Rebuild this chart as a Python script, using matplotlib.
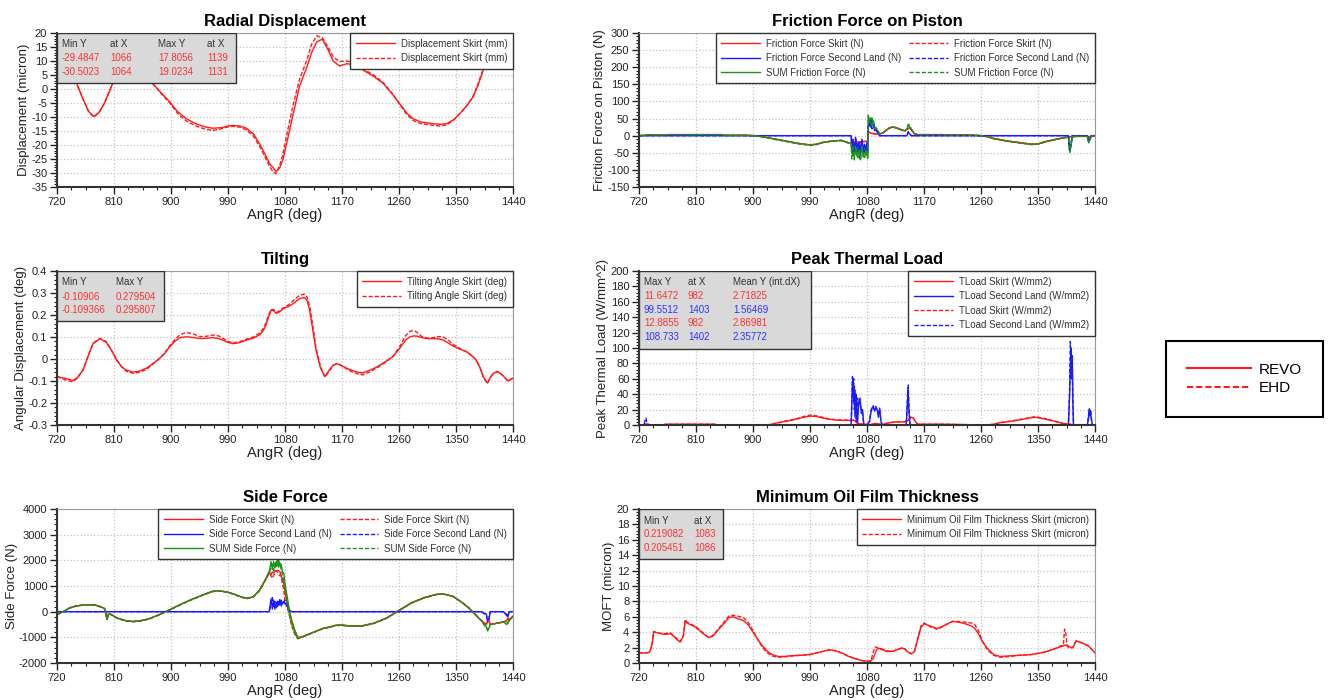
import matplotlib
matplotlib.use('Agg')
import matplotlib.pyplot as plt
from matplotlib.ticker import MultipleLocator, AutoMinorLocator, FormatStrFormatter
from matplotlib.lines import Line2D
import matplotlib.patches as mpatches

plt.rcParams['font.family'] = ['Liberation Sans', 'DejaVu Sans']
plt.rcParams['axes.unicode_minus'] = False

# ---------------- DATA ----------------
# Radial displacement (micron)
rd_x = [720, 730, 740, 751, 760, 770, 778, 786, 795, 808, 820, 835, 850, 862, 871,
        885, 898, 910, 924, 940, 955, 966, 980, 990, 998, 1008, 1019, 1030, 1040, 1050,
        1056, 1061, 1066, 1072, 1077, 1085, 1093, 1103, 1114, 1122, 1130, 1139, 1148, 1156, 1166,
        1177, 1190, 1203, 1220, 1235, 1250, 1261, 1272, 1282, 1295, 1314, 1325, 1335, 1346, 1356,
        1367, 1377, 1385, 1393, 1405, 1420, 1440]
rd_revo = [16, 12, 7, 2, -3, -8, -9.8, -8.5, -5, 2, 6, 8, 7, 4.5, 2,
           -1.5, -4.6, -8, -10.6, -12.5, -13.6, -14.0, -13.8, -13.2, -13.0, -13.2, -14.0, -16, -19.6, -24,
           -26.8, -28, -29.5, -28, -25, -17, -8.8, 1, 7.5, 13, 16.8, 17.8, 14, 10, 8.2,
           9.0, 8.8, 6.8, 4.5, 2, -2, -5.2, -8.5, -10.6, -11.8, -12.4, -12.6, -12.4, -11, -8.8,
           -6, -2.8, 1.5, 6.8, 12, 15, 16]
rd_ehd = [17, 12.5, 7, 2, -3, -8.2, -10, -8.5, -5, 2, 6, 8, 7, 4.5, 2,
          -1.8, -5, -8.6, -11.4, -13.3, -14.4, -14.8, -14.2, -13.5, -13.3, -13.6, -14.6, -16.8, -20.5, -25,
          -27.8, -29.5, -30.3, -27, -23, -14, -5.5, 3.5, 10, 16, 19.0, 18.3, 15, 11.5, 9.8,
          10, 9.5, 7.2, 5, 2.3, -1.8, -5.5, -9, -11.2, -12.4, -13, -13.2, -12.8, -11.2, -8.8,
          -6, -2.6, 2, 7.2, 12.5, 15.5, 17]

# Tilting (deg)
tl_x = [720, 733, 745, 752, 761, 770, 777, 788, 798, 806, 814, 822, 829, 840, 850,
        861, 872, 882, 890, 898, 906, 914, 924, 935, 945, 955, 966, 975, 982, 990,
        998, 1008, 1019, 1030, 1040, 1046, 1050, 1054, 1058, 1062, 1066, 1072, 1077, 1085, 1093,
        1103, 1111, 1115, 1119, 1124, 1129, 1136, 1143, 1150, 1156, 1161, 1166, 1172, 1180, 1187,
        1195, 1203, 1213, 1224, 1237, 1250, 1261, 1270, 1277, 1283, 1288, 1296, 1304, 1314, 1322,
        1330, 1338, 1346, 1356, 1367, 1375, 1382, 1388, 1393, 1397, 1400, 1404, 1409, 1416, 1424,
        1432, 1440]
tl_revo = [-0.08, -0.088, -0.098, -0.085, -0.05, 0.02, 0.07, 0.092, 0.075, 0.04,
           -0.005, -0.035, -0.05, -0.06, -0.055, -0.042, -0.02, 0.003, 0.025, 0.056,
           0.08, 0.097, 0.101, 0.098, 0.093, 0.094, 0.097, 0.093, 0.086, 0.075,
           0.07, 0.074, 0.086, 0.095, 0.11, 0.13, 0.155, 0.19, 0.222, 0.22,
           0.207, 0.215, 0.229, 0.238, 0.252, 0.275, 0.279, 0.265, 0.22, 0.13,
           0.04, -0.04, -0.08, -0.05, -0.028, -0.022, -0.025, -0.035, -0.045, -0.053,
           -0.06, -0.063, -0.052, -0.038, -0.015, 0.01, 0.048, 0.085, 0.1, 0.105,
           0.104, 0.097, 0.093, 0.092, 0.092, 0.086, 0.072, 0.058, 0.045, 0.032,
           0.015, -0.005, -0.04, -0.08, -0.1, -0.109, -0.085, -0.065, -0.057, -0.075,
           -0.1, -0.087]
tl_ehd = [-0.08, -0.095, -0.103, -0.088, -0.05, 0.02, 0.072, 0.094, 0.078, 0.04,
          -0.002, -0.035, -0.055, -0.065, -0.06, -0.048, -0.022, 0.003, 0.027, 0.06,
          0.088, 0.11, 0.121, 0.114, 0.102, 0.103, 0.109, 0.105, 0.094, 0.08,
          0.073, 0.078, 0.09, 0.1, 0.118, 0.14, 0.165, 0.2, 0.225, 0.225,
          0.212, 0.22, 0.232, 0.245, 0.265, 0.29, 0.295, 0.28, 0.24, 0.15,
          0.05, -0.035, -0.082, -0.055, -0.03, -0.022, -0.025, -0.035, -0.05, -0.06,
          -0.068, -0.072, -0.06, -0.042, -0.018, 0.01, 0.055, 0.105, 0.125, 0.13,
          0.122, 0.102, 0.095, 0.097, 0.102, 0.1, 0.085, 0.065, 0.048, 0.033,
          0.015, -0.005, -0.04, -0.08, -0.1, -0.109, -0.085, -0.065, -0.057, -0.075,
          -0.1, -0.087]

# Friction force (N)
fr_x = [720, 730, 733, 737, 740, 760, 765, 800, 850, 855, 890, 900, 910, 920, 935,
        950, 970, 990, 1000, 1010, 1020, 1030, 1040, 1050, 1055, 1056, 1058, 1060, 1062, 1064,
        1066, 1068, 1070, 1072, 1074, 1076, 1078, 1080, 1081, 1082, 1084, 1086, 1088, 1090, 1092,
        1094, 1096, 1098, 1100, 1105, 1110, 1115, 1120, 1125, 1130, 1135, 1140, 1143, 1145, 1147,
        1150, 1155, 1160, 1200, 1230, 1250, 1260, 1270, 1280, 1300, 1320, 1340, 1350, 1360, 1380,
        1395, 1398, 1400, 1402, 1404, 1410, 1420, 1428, 1430, 1432, 1434, 1440]
fr_skirt_revo = [0, 1, 2, 3, 2, 2, 3, 3, 3, 1, 1, 0, -2, -5, -10,
                 -15, -22, -27, -25, -20, -17, -15, -14, -20, -22, -22, -22, -21, -20, -20,
                 -19, -18, -18, -18, -17, -17, -17, -17, -17, 12, 10, 8, 7, 6, 5,
                 5, 5, 5, 5, 8, 15, 22, 25, 23, 20, 16, 14, 18, 20, 22,
                 18, 5, 3, 3, 2, 1, 0, -3, -8, -15, -20, -25, -24, -18, -10,
                 -5, -4, -4, -3, -3, -2, -2, -2, -3, -3, -2, 0]
fr_land_revo = [0, 0, 0, 0, 0, 0, 0, 0, 0, 0, 0, 0, 0, 0, 0,
                0, 0, 0, 0, 0, 0, 0, 0, 0, 0, -30, -10, -45, -5, -40,
                -20, -50, -30, -10, -45, -25, -40, -20, -45, 20, 40, 25, 45, 35, 15,
                20, 10, 5, 0, 0, 0, 0, 0, 0, 0, 0, 0, 0, 10, 5,
                0, 0, 0, 0, 0, 0, 0, 0, 0, 0, 0, 0, 0, 0, 0,
                0, 0, -40, -30, 0, 0, 0, 0, -15, -10, 0, 0]
fr_sum_revo = [0, 1, 2, 3, 2, 2, 3, 3, 3, 1, 1, 0, -2, -5, -10,
               -15, -22, -27, -25, -20, -17, -15, -14, -20, -22, -52, -32, -66, -25, -60,
               -39, -68, -48, -28, -62, -42, -57, -37, -62, 55, 50, 33, 52, 41, 20,
               25, 15, 10, 5, 8, 15, 22, 25, 23, 20, 16, 14, 18, 30, 27,
               18, 5, 3, 3, 2, 1, 0, -3, -8, -15, -20, -25, -24, -18, -10,
               -5, -4, -44, -33, -3, -2, -2, -2, -18, -13, -2, 0]
fr_skirt_ehd = [0, 1, 2, 3, 2, 2, 3, 3, 3, 1, 1, 0, -2, -5, -11,
                -16, -23, -28, -26, -20, -17, -15, -14, -21, -23, -23, -22, -21, -21, -20,
                -19, -19, -18, -18, -18, -17, -17, -17, -17, 10, 9, 7, 6, 6, 5,
                5, 5, 5, 5, 8, 15, 22, 26, 24, 21, 17, 15, 19, 21, 23,
                19, 5, 3, 3, 2, 1, 0, -3, -9, -16, -21, -26, -25, -19, -10,
                -5, -4, -4, -3, -3, -2, -2, -2, -3, -3, -2, 0]
fr_land_ehd = [0, 0, 0, 0, 0, 0, 0, 0, 0, 0, 0, 0, 0, 0, 0,
               0, 0, 0, 0, 0, 0, 0, 0, 0, 0, -45, -15, -50, -10, -35,
               -45, -20, -55, -15, -40, -50, -30, -45, -50, 35, 30, 45, 20, 40, 20,
               15, 15, 8, 0, 0, 0, 0, 0, 0, 0, 0, 0, 0, 12, 8,
               0, 0, 0, 0, 0, 0, 0, 0, 0, 0, 0, 0, 0, 0, 0,
               0, 0, -45, -25, 0, 0, 0, 0, -18, -8, 0, 0]
fr_sum_ehd = [0, 1, 2, 3, 2, 2, 3, 3, 3, 1, 1, 0, -2, -5, -11,
              -16, -23, -28, -26, -20, -17, -15, -14, -21, -23, -68, -37, -71, -31, -55,
              -64, -39, -73, -33, -58, -67, -47, -62, -67, 60, 39, 52, 26, 46, 25,
              20, 20, 13, 5, 8, 15, 22, 26, 24, 21, 17, 15, 19, 33, 31,
              19, 5, 3, 3, 2, 1, 0, -3, -9, -16, -21, -26, -25, -19, -10,
              -5, -4, -49, -28, -3, -2, -2, -2, -21, -11, -2, 0]

# Peak thermal load (W/mm2)
th_x = [720, 727, 728, 735, 736, 760, 761, 840, 841, 920,
        930, 940, 950, 960, 970, 980, 990, 1000, 1010, 1020,
        1030, 1040, 1050, 1060, 1064, 1068, 1075, 1080, 1085, 1090,
        1095, 1100, 1105, 1110, 1120, 1130, 1140, 1145, 1150, 1153,
        1156, 1160, 1165, 1200, 1270, 1280, 1290, 1300, 1310, 1320,
        1330, 1340, 1345, 1350, 1360, 1370, 1380, 1390, 1400, 1405,
        1410, 1440]
th_skirt_revo = [0, 0, 1, 1, 0, 0, 1, 1, 0, 0,
                 1, 3, 4.5, 6, 8, 10, 11.6, 11, 9, 7.5,
                 6.5, 6, 6, 6, 3, 1.5, 1, 1, 0.5, 1.5,
                 2, 1, 0.5, 2, 3.5, 4, 4, 6, 10, 9,
                 5, 1, 1, 1, 0, 1, 3, 4, 5, 6.5,
                 8, 9.5, 10, 9.5, 8, 6, 4, 2, 1, 0.5,
                 0, 0]
th_skirt_ehd = [0, 0, 1, 1, 0, 0, 1, 1, 0, 0,
                1, 3, 5, 6.5, 8.5, 11, 12.9, 12, 10, 8,
                7, 6.5, 6.5, 6.5, 3, 1.5, 1, 1, 0.5, 1.5,
                2, 1, 0.5, 2, 3.5, 4, 4.5, 6.5, 11, 9.5,
                5, 1, 1, 1, 0, 1, 3, 4.5, 5.5, 7,
                8.5, 10, 11, 10, 8.5, 6.5, 4, 2, 1, 0.5,
                0, 0]
th_land_x_revo = [720, 1055, 1057, 1058, 1059, 1060, 1061, 1063, 1065, 1067,
                  1069, 1071, 1073, 1075, 1080, 1084, 1086, 1088, 1090, 1092,
                  1094, 1096, 1098, 1100, 1102, 1104, 1142, 1144, 1145, 1146,
                  1148, 1398, 1400, 1401, 1402, 1403, 1404, 1405, 1406, 1408,
                  1428, 1430, 1431, 1432, 1433, 1434, 1436, 1440]
th_land_revo = [0, 0, 55, 60, 30, 50, 10, 40, 0, 30,
                35, 15, 20, 0, 0, 5, 15, 22, 25, 18,
                22, 20, 10, 22, 5, 0, 0, 30, 45, 20,
                0, 0, 40, 75, 99.5, 60, 90, 30, 0, 0,
                0, 10, 20, 12, 18, 8, 0, 0]
th_land_x_ehd = [720, 728, 730, 731, 733, 1055, 1057, 1058, 1059, 1060, 1061, 1063, 1065, 1067,
                 1069, 1071, 1073, 1075, 1080, 1084, 1086, 1088, 1090, 1092,
                 1094, 1096, 1098, 1100, 1102, 1104, 1142, 1144, 1145, 1146,
                 1148, 1398, 1400, 1401, 1402, 1403, 1404, 1405, 1406, 1408,
                 1428, 1430, 1431, 1432, 1433, 1434, 1436, 1440]
th_land_ehd = [0, 0, 8, 9, 0, 0, 63, 50, 60, 20, 45, 5, 35, 25,
               30, 20, 15, 0, 0, 5, 18, 24, 22, 20,
               24, 20, 15, 20, 5, 0, 0, 40, 52, 30,
               0, 0, 50, 108.7, 95, 85, 90, 40, 0, 0,
               0, 15, 21, 18, 20, 10, 0, 0]

# Side force (N)
sf_x = [720, 730, 740, 750, 765, 780, 790, 795, 797, 799, 801, 805, 815, 830, 840,
        850, 865, 880, 900, 915, 930, 950, 965, 975, 990, 1000, 1010, 1020, 1030, 1040,
        1048, 1055, 1058, 1060, 1062, 1064, 1066, 1068, 1070, 1072, 1074, 1076, 1078, 1080, 1083,
        1086, 1090, 1095, 1100, 1105, 1110, 1120, 1130, 1140, 1150, 1160, 1170, 1180, 1200, 1220,
        1240, 1260, 1280, 1300, 1320, 1330, 1345, 1360, 1370, 1380, 1390, 1398, 1400, 1402, 1404,
        1408, 1415, 1425, 1430, 1432, 1434, 1440]
sf_skirt_revo = [-100, 0, 150, 220, 270, 260, 180, 120, -50, -300, -100, -100, -250, -360, -380,
                 -360, -280, -130, 100, 280, 450, 650, 790, 820, 760, 680, 580, 520, 580, 850,
                 1200, 1550, 1450, 1550, 1500, 1600, 1600, 1600, 1600, 1550, 1400, 1250, 1100, 800, 400,
                 100, -300, -700, -1000, -1000, -950, -850, -750, -650, -600, -530, -520, -550, -560, -450,
                 -250, 50, 350, 550, 680, 690, 600, 350, 150, -100, -350, -500, -350, -350, -500,
                 -480, -450, -400, -350, -250, -350, -180]
sf_land_revo = [0, 0, 0, 0, 0, 0, 0, 0, 0, 0, 0, 0, 0, 0, 0,
                0, 0, 0, 0, 0, 0, 0, 0, 0, 0, 0, 0, 0, 0, 0,
                0, 0, 500, 100, 450, 100, 350, 200, 400, 250, 450, 300, 400, 300, 250,
                100, 0, 0, 0, 0, 0, 0, 0, 0, 0, 0, 0, 0, 0, 0,
                0, 0, 0, 0, 0, 0, 0, 0, 0, 0, 0, -100, -400, -300, 0,
                0, 0, 0, -150, -200, 0, 0]
sf_sum_revo = [-100, 0, 150, 220, 270, 260, 180, 120, -50, -300, -100, -100, -250, -360, -380,
               -360, -280, -130, 100, 280, 450, 650, 790, 820, 760, 680, 580, 520, 580, 850,
               1200, 1550, 1950, 1650, 1950, 1700, 1950, 1800, 2000, 1800, 1850, 1550, 1500, 1100, 650,
               200, -300, -700, -1000, -1000, -950, -850, -750, -650, -600, -530, -520, -550, -560, -450,
               -250, 50, 350, 550, 680, 690, 600, 350, 150, -100, -350, -600, -750, -650, -500,
               -480, -450, -400, -500, -450, -350, -180]
sf_skirt_ehd = [-120, 0, 140, 220, 270, 260, 180, 120, -50, -300, -100, -110, -260, -370, -390,
                -370, -290, -140, 90, 270, 440, 640, 780, 810, 750, 670, 570, 510, 570, 830,
                1180, 1500, 1400, 1300, 1400, 1500, 1600, 1550, 1450, 1400, 1400, 1050, 850, 450, 200,
                -50, -500, -850, -1050, -1020, -960, -860, -760, -660, -610, -540, -530, -560, -570, -460,
                -260, 40, 340, 540, 670, 690, 600, 350, 150, -100, -350, -500, -350, -350, -500,
                -480, -450, -400, -350, -250, -300, -180]
sf_land_ehd = [0, 0, 0, 0, 0, 0, 0, 0, 0, 0, 0, 0, 0, 0, 0,
               0, 0, 0, 0, 0, 0, 0, 0, 0, 0, 0, 0, 0, 0, 0,
               0, 0, 300, 550, 200, 400, 150, 450, 250, 500, 200, 400, 350, 450, 200,
               50, 0, 0, 0, 0, 0, 0, 0, 0, 0, 0, 0, 0, 0, 0,
               0, 0, 0, 0, 0, 0, 0, 0, 0, 0, 0, -150, -350, -250, 0,
               0, 0, 0, -100, -150, 0, 0]
sf_sum_ehd = [-120, 0, 140, 220, 270, 260, 180, 120, -50, -300, -100, -110, -260, -370, -390,
              -370, -290, -140, 90, 270, 440, 640, 780, 810, 750, 670, 570, 510, 570, 830,
              1180, 1500, 1700, 1850, 1600, 1900, 1750, 2000, 1700, 1900, 1600, 1450, 1200, 900, 400,
              0, -500, -850, -1050, -1020, -960, -860, -760, -660, -610, -540, -530, -560, -570, -460,
              -260, 40, 340, 540, 670, 690, 600, 350, 150, -100, -350, -650, -700, -600, -500,
              -480, -450, -400, -450, -400, -300, -180]

# Minimum oil film thickness (micron)
mo_x = [720, 730, 737, 741, 743, 750, 760, 770, 778, 785, 790, 793, 796, 810, 820,
        830, 837, 845, 855, 862, 868, 875, 885, 893, 900, 908, 915, 923, 930, 940,
        950, 960, 975, 990, 1005, 1020, 1030, 1040, 1050, 1060, 1070, 1078, 1083, 1086, 1090,
        1093, 1096, 1100, 1105, 1110, 1120, 1130, 1135, 1140, 1145, 1150, 1155, 1160, 1165, 1170,
        1180, 1190, 1195, 1205, 1215, 1225, 1235, 1245, 1250, 1256, 1262, 1270, 1280, 1290, 1300,
        1320, 1340, 1360, 1375, 1385, 1390, 1392, 1394, 1396, 1398, 1402, 1405, 1410, 1420, 1430,
        1440]
mo_revo = [1.3, 1.3, 1.4, 2.5, 4.0, 3.9, 3.7, 3.8, 3.2, 2.7, 3.5, 5.5, 5.2, 4.6, 3.9,
           3.3, 3.5, 4.3, 5.2, 5.9, 6.0, 5.8, 5.5, 4.9, 4.0, 3.0, 2.2, 1.5, 1.1, 0.85,
           0.85, 0.95, 1.0, 1.1, 1.4, 1.7, 1.6, 1.3, 0.9, 0.6, 0.35, 0.25, 0.22, 0.3, 0.6,
           1.3, 1.8, 1.9, 1.8, 1.5, 1.5, 1.8, 1.95, 1.8, 1.4, 1.2, 1.5, 3.0, 4.6, 5.1,
           4.8, 4.5, 4.6, 5.0, 5.4, 5.3, 5.1, 4.8, 4.5, 3.8, 2.8, 1.9, 1.1, 0.85, 0.9,
           1.0, 1.1, 1.4, 1.8, 2.1, 2.2, 2.3, 2.3, 2.3, 2.2, 2.0, 2.0, 2.9, 2.6, 2.2,
           1.3]
mo_ehd = [1.3, 1.3, 1.4, 2.7, 4.1, 3.9, 3.8, 3.9, 3.3, 2.8, 3.5, 5.6, 5.3, 4.7, 4.0,
          3.3, 3.6, 4.4, 5.4, 6.1, 6.2, 6.1, 5.9, 5.2, 4.2, 3.0, 2.0, 1.3, 0.9, 0.75,
          0.8, 0.9, 1.0, 1.1, 1.4, 1.7, 1.6, 1.3, 0.9, 0.6, 0.35, 0.25, 0.22, 0.21, 1.5,
          2.1, 2.0, 1.8, 1.7, 1.6, 1.5, 1.8, 1.95, 1.8, 1.4, 1.2, 1.5, 3.2, 4.8, 5.2,
          4.7, 4.4, 4.5, 5.0, 5.4, 5.4, 5.3, 5.2, 5.0, 4.2, 2.9, 1.7, 1.0, 0.75, 0.8,
          1.0, 1.1, 1.4, 1.8, 2.2, 2.3, 4.4, 3.8, 2.2, 2.0, 2.0, 2.0, 2.8, 2.6, 2.2,
          1.3]

# Statistics boxes text
rd_stats_head = ['Min Y', 'at X', 'Max Y', 'at X']
rd_stats_revo = ['-29.4847', '1066', '17.8056', '1139']
rd_stats_ehd = ['-30.5023', '1064', '19.0234', '1131']
tl_stats_head = ['Min Y', 'Max Y']
tl_stats_revo = ['-0.10906', '0.279504']
tl_stats_ehd = ['-0.109366', '0.295807']
th_stats_head = ['Max Y', 'at X', 'Mean Y (int.dX)']
th_stats_rows = [['11.6472', '982', '2.71825'],
                 ['99.5512', '1403', '1.56469'],
                 ['12.8855', '982', '2.86981'],
                 ['108.733', '1402', '2.35772']]
mo_stats_head = ['Min Y', 'at X']
mo_stats_revo = ['0.219082', '1083']
mo_stats_ehd = ['0.205451', '1086']

# ---------------- STYLE ----------------
W, H = 1332, 700
RED = '#ff1a1a'
BLUE = '#1a1aff'
GREEN = '#1a941a'
TXT_RED = '#ff3333'
TXT_BLUE = '#3333ff'
DASH = (0, (3, 1.4))
AW, AH = 456, 154

fig = plt.figure(figsize=(W / 100, H / 100), dpi=100)


def px_axes(left, top, right, bottom):
    return fig.add_axes([left / W, 1 - bottom / H, (right - left) / W, (bottom - top) / H])


def style(ax, ylim, ystep, ylabel, title, fmt='%g'):
    ax.set_xlim(720, 1440)
    ax.set_ylim(*ylim)
    ax.xaxis.set_major_locator(MultipleLocator(90))
    ax.xaxis.set_minor_locator(MultipleLocator(22.5))
    ax.yaxis.set_major_locator(MultipleLocator(ystep))
    ax.yaxis.set_minor_locator(AutoMinorLocator(5))
    ax.yaxis.set_major_formatter(FormatStrFormatter(fmt))
    ax.grid(True, which='major', color='#c4c4c4', linestyle=':', linewidth=0.9)
    ax.set_axisbelow(True)
    ax.tick_params(which='major', direction='out', length=5, width=1, labelsize=8,
                   colors='#222222', pad=2)
    ax.tick_params(which='minor', direction='out', length=2.5, width=0.8, colors='#222222')
    for s in ['left', 'bottom']:
        ax.spines[s].set_linewidth(1.5)
        ax.spines[s].set_color('#333333')
    for s in ['top', 'right']:
        ax.spines[s].set_linewidth(0.8)
        ax.spines[s].set_color('#999999')
    ax.set_xlabel('AngR (deg)', fontsize=10.5, labelpad=1, color='#222222')
    ax.set_ylabel(ylabel, fontsize=9.5, labelpad=1, color='#222222')
    ax.set_title(title, fontsize=12, fontweight='bold', pad=5)


def stats_box(ax, w, h, cols, rows):
    rect = mpatches.Rectangle((0, 1 - h / AH), w / AW, h / AH, transform=ax.transAxes,
                              facecolor='#d9d9d9', edgecolor='#333333', lw=1.0, zorder=5)
    ax.add_patch(rect)
    for yoff, texts, color in rows:
        for c, t in zip(cols, texts):
            ax.text(c / AW, 1 - yoff / AH, t, transform=ax.transAxes, fontsize=7,
                    color=color, va='center', ha='left', zorder=6)


def legend(ax, ncol=1, **kw):
    lg = ax.legend(loc='upper right', borderaxespad=0, fontsize=7, handlelength=4.0,
                   handletextpad=0.6, labelspacing=0.45, borderpad=0.6, ncol=ncol,
                   frameon=True, fancybox=False, edgecolor='#333333', framealpha=1,
                   columnspacing=0.8, **kw)
    lg.get_frame().set_linewidth(1.0)
    for t in lg.get_texts():
        t.set_color('#333333')
    lg.set_zorder(7)
    return lg


# ---- Radial displacement
ax1 = px_axes(57, 33, 513, 187)
ax1.plot(rd_x, rd_revo, color=RED, lw=1.0, label='Displacement Skirt (mm)')
ax1.plot(rd_x, rd_ehd, color=RED, lw=1.0, ls=DASH, label='Displacement Skirt (mm)')
style(ax1, (-35, 20), 5, 'Displacement (micron)', 'Radial Displacement')
legend(ax1)
stats_box(ax1, 179, 50, [5, 53, 101, 150],
          [(11, rd_stats_head, '#333333'), (25, rd_stats_revo, TXT_RED), (39, rd_stats_ehd, TXT_RED)])

# ---- Friction
ax2 = px_axes(639, 33, 1095, 187)
ax2.plot(fr_x, fr_skirt_revo, color=RED, lw=1.0, label='Friction Force Skirt (N)')
ax2.plot(fr_x, fr_land_revo, color=BLUE, lw=1.0, label='Friction Force Second Land (N)')
ax2.plot(fr_x, fr_sum_revo, color=GREEN, lw=1.0, label='SUM Friction Force (N)')
ax2.plot(fr_x, fr_skirt_ehd, color=RED, lw=1.0, ls=DASH, label='Friction Force Skirt (N)')
ax2.plot(fr_x, fr_land_ehd, color=BLUE, lw=1.0, ls=DASH, label='Friction Force Second Land (N)')
ax2.plot(fr_x, fr_sum_ehd, color=GREEN, lw=1.0, ls=DASH, label='SUM Friction Force (N)')
style(ax2, (-150, 300), 50, 'Friction Force on Piston (N)', 'Friction Force on Piston')
legend(ax2, ncol=2)

# ---- Tilting
ax3 = px_axes(57, 271, 513, 425)
ax3.plot(tl_x, tl_revo, color=RED, lw=1.0, label='Tilting Angle Skirt (deg)')
ax3.plot(tl_x, tl_ehd, color=RED, lw=1.0, ls=DASH, label='Tilting Angle Skirt (deg)')
style(ax3, (-0.3, 0.4), 0.1, 'Angular Displacement (deg)', 'Tilting')
legend(ax3)
stats_box(ax3, 107, 50, [5, 59],
          [(11, tl_stats_head, '#333333'), (26, tl_stats_revo, TXT_RED), (39, tl_stats_ehd, TXT_RED)])

# ---- Peak thermal load
ax4 = px_axes(639, 271, 1095, 425)
ax4.plot(th_x, th_skirt_revo, color=RED, lw=1.0, label='TLoad Skirt (W/mm2)')
ax4.plot(th_land_x_revo, th_land_revo, color=BLUE, lw=1.0, label='TLoad Second Land (W/mm2)')
ax4.plot(th_x, th_skirt_ehd, color=RED, lw=1.0, ls=DASH, label='TLoad Skirt (W/mm2)')
ax4.plot(th_land_x_ehd, th_land_ehd, color=BLUE, lw=1.0, ls=DASH, label='TLoad Second Land (W/mm2)')
style(ax4, (0, 200), 20, 'Peak Thermal Load (W/mm^2)', 'Peak Thermal Load')
legend(ax4)
th_colors = [TXT_RED, TXT_BLUE, TXT_RED, TXT_BLUE]
th_rows = [(11, th_stats_head, '#333333')]
for i, (r, c) in enumerate(zip(th_stats_rows, th_colors)):
    th_rows.append((25 + 13.7 * i, r, c))
stats_box(ax4, 172, 78, [5, 49, 94], th_rows)

# ---- Side force
ax5 = px_axes(57, 509, 513, 663)
ax5.plot(sf_x, sf_skirt_revo, color=RED, lw=1.0, label='Side Force Skirt (N)')
ax5.plot(sf_x, sf_land_revo, color=BLUE, lw=1.0, label='Side Force Second Land (N)')
ax5.plot(sf_x, sf_sum_revo, color=GREEN, lw=1.0, label='SUM Side Force (N)')
ax5.plot(sf_x, sf_skirt_ehd, color=RED, lw=1.0, ls=DASH, label='Side Force Skirt (N)')
ax5.plot(sf_x, sf_land_ehd, color=BLUE, lw=1.0, ls=DASH, label='Side Force Second Land (N)')
ax5.plot(sf_x, sf_sum_ehd, color=GREEN, lw=1.0, ls=DASH, label='SUM Side Force (N)')
style(ax5, (-2000, 4000), 1000, 'Side Force (N)', 'Side Force')
legend(ax5, ncol=2)

# ---- MOFT
ax6 = px_axes(639, 509, 1095, 663)
ax6.plot(mo_x, mo_revo, color=RED, lw=1.0, label='Minimum Oil Film Thickness Skirt (micron)')
ax6.plot(mo_x, mo_ehd, color=RED, lw=1.0, ls=DASH, label='Minimum Oil Film Thickness Skirt (micron)')
style(ax6, (0, 20), 2, 'MOFT (micron)', 'Minimum Oil Film Thickness')
legend(ax6)
stats_box(ax6, 84, 50, [5, 55],
          [(12, mo_stats_head, '#333333'), (25, mo_stats_revo, TXT_RED), (39, mo_stats_ehd, TXT_RED)])

# ---- Figure legend
handles = [Line2D([], [], color=RED, lw=1.5), Line2D([], [], color=RED, lw=1.5, ls=DASH)]
flg = fig.legend(handles, ['REVO', 'EHD'], loc='center',
                 bbox_to_anchor=((1168 + 1321) / 2 / W, 1 - (339 + 419) / 2 / H),
                 fontsize=11, handlelength=4.2, handletextpad=0.5, borderpad=1.4,
                 labelspacing=0.3, frameon=True, fancybox=False, edgecolor='black', framealpha=1)
flg.get_frame().set_linewidth(1.5)

fig.savefig('out.png', dpi=100)
